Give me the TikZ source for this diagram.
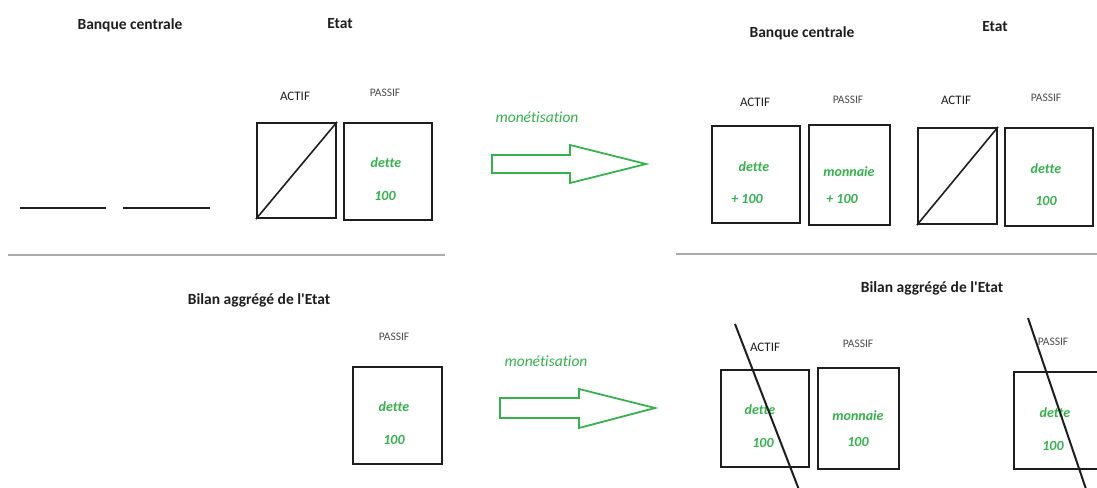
\documentclass[tikz,border=0pt]{standalone}
\usepackage{fontspec}
\setmainfont{Carlito}[Ligatures={TeXOff,NoCommon}]
\definecolor{grn}{RGB}{52,178,76}
\definecolor{ink}{RGB}{30,30,30}
\definecolor{sep}{RGB}{170,170,170}
\begin{document}
\begin{tikzpicture}[x=1pt,y=-1pt,
  title/.style={font=\bfseries\fontsize{15.5}{17}\selectfont, text=ink, inner sep=0},
  lab/.style={font=\fontsize{13}{15}\selectfont, text=ink, inner sep=0},
  labs/.style={font=\fontsize{11.5}{13}\selectfont, text=ink!80, inner sep=0},
  val/.style={font=\bfseries\itshape\fontsize{14}{16}\selectfont, text=grn, inner sep=0},
  mon/.style={font=\itshape\fontsize{15.5}{17}\selectfont, text=grn, inner sep=0},
  box/.style={draw=ink, line width=2.2pt, inner sep=0, rectangle},
  diag/.style={draw=ink, line width=1.6pt},
  strike/.style={draw=ink, line width=2pt},
  sepline/.style={draw=sep, line width=2pt},
  bigarrow/.style={draw=grn, line width=1.8pt, line join=miter}
]
\useasboundingbox (0,0) rectangle (1097,487);
\clip (0,0) rectangle (1097,487);

% ---------- top left ----------
\node[title] (tBC1) at (130,25) {Banque centrale};
\node[title] (tE1) at (340,24) {Etat};
\coordinate (l1a) at (20,208); \coordinate (l1b) at (106,208);
\coordinate (l2a) at (123,208); \coordinate (l2b) at (210,208);
\draw[ink, line width=2pt] (l1a) -- (l1b);
\draw[ink, line width=2pt] (l2a) -- (l2b);
\node[lab] (aE1) at (295,96) {ACTIF};
\node[labs] (pE1) at (385,93) {PASSIF};
\node[box, minimum width=79pt, minimum height=95pt] (E1A) at (296.5,170.5) {};
\node[box, minimum width=88pt, minimum height=97pt] (E1P) at (388,171.5) {};
\draw[diag] (E1A.south west) -- (E1A.north east);
\node[val] (vE1a) at (386,163) {dette};
\node[val] (vE1b) at (385,196) {100};

% ---------- top arrow ----------
\node[mon] (m1) at (537,117) {monétisation};
\draw[bigarrow] (492,155) -- (570,155) -- (570,145) -- (646,164) -- (570,183) -- (570,173) -- (492,173) -- cycle;

% ---------- top right ----------
\node[title] (tBC2) at (802,33) {Banque centrale};
\node[title] (tE2) at (995,27) {Etat};
\node[lab] (aBC2) at (755,102) {ACTIF};
\node[labs] (pBC2) at (848,100) {PASSIF};
\node[lab] (aE2) at (956,100) {ACTIF};
\node[labs] (pE2) at (1046,98) {PASSIF};
\node[box, minimum width=88pt, minimum height=97pt] (BC2A) at (756,174.5) {};
\node[box, minimum width=81pt, minimum height=100pt] (BC2P) at (849.5,175) {};
\node[box, minimum width=79pt, minimum height=96pt] (E2A) at (957.5,176) {};
\node[box, minimum width=88pt, minimum height=98pt] (E2P) at (1049,177) {};
\draw[diag] (E2A.south west) -- (E2A.north east);
\node[val] (vBCa1) at (754,167) {dette};
\node[val] (vBCa2) at (747,199) {+ 100};
\node[val] (vBCp1) at (849,172) {monnaie};
\node[val] (vBCp2) at (842,199) {+ 100};
\node[val] (vE2a) at (1046,169) {dette};
\node[val] (vE2b) at (1046,201) {100};

% ---------- separators ----------
\coordinate (s1a) at (8,255); \coordinate (s1b) at (445,255);
\coordinate (s2a) at (676,254); \coordinate (s2b) at (1097,254);
\draw[sepline] (s1a) -- (s1b);
\draw[sepline] (s2a) -- (s2b);

% ---------- bottom left ----------
\node[title] (tB1) at (259,300) {Bilan aggrégé de l'Etat};
\node[labs] (pB1) at (394,337) {PASSIF};
\node[box, minimum width=89pt, minimum height=97pt] (B1P) at (397.5,415.5) {};
\node[val] (vB1a) at (394,407) {dette};
\node[val] (vB1b) at (394,440) {100};

% ---------- bottom arrow ----------
\node[mon] (m2) at (546,361) {monétisation};
\draw[bigarrow] (500,398) -- (579,398) -- (579,389) -- (655,408) -- (579,428) -- (579,418) -- (500,418) -- cycle;

% ---------- bottom right ----------
\node[title] (tB2) at (932,288) {Bilan aggrégé de l'Etat};
\node[lab] (aB2) at (765,347) {ACTIF};
\node[labs] (pB2) at (858,344) {PASSIF};
\node[labs] (pB3) at (1053,342) {PASSIF};
\node[box, minimum width=88pt, minimum height=97pt] (B2A) at (765,418.5) {};
\node[box, minimum width=81pt, minimum height=101pt] (B2P) at (858.5,418.5) {};
\node[box, minimum width=88pt, minimum height=97pt] (B3P) at (1058,420.5) {};
\node[val] (vB2a) at (760,410) {dette};
\node[val] (vB2b) at (763,443) {100};
\node[val] (vB2c) at (858,416) {monnaie};
\node[val] (vB2d) at (858,442) {100};
\node[val] (vB3a) at (1055,413) {dette};
\node[val] (vB3b) at (1053,446) {100};
\coordinate (k1a) at (735,324); \coordinate (k1b) at (801,495);
\coordinate (k2a) at (1028,318); \coordinate (k2b) at (1088,495);
\draw[strike] (k1a) -- (k1b);
\draw[strike] (k2a) -- (k2b);
\end{tikzpicture}
\end{document}
